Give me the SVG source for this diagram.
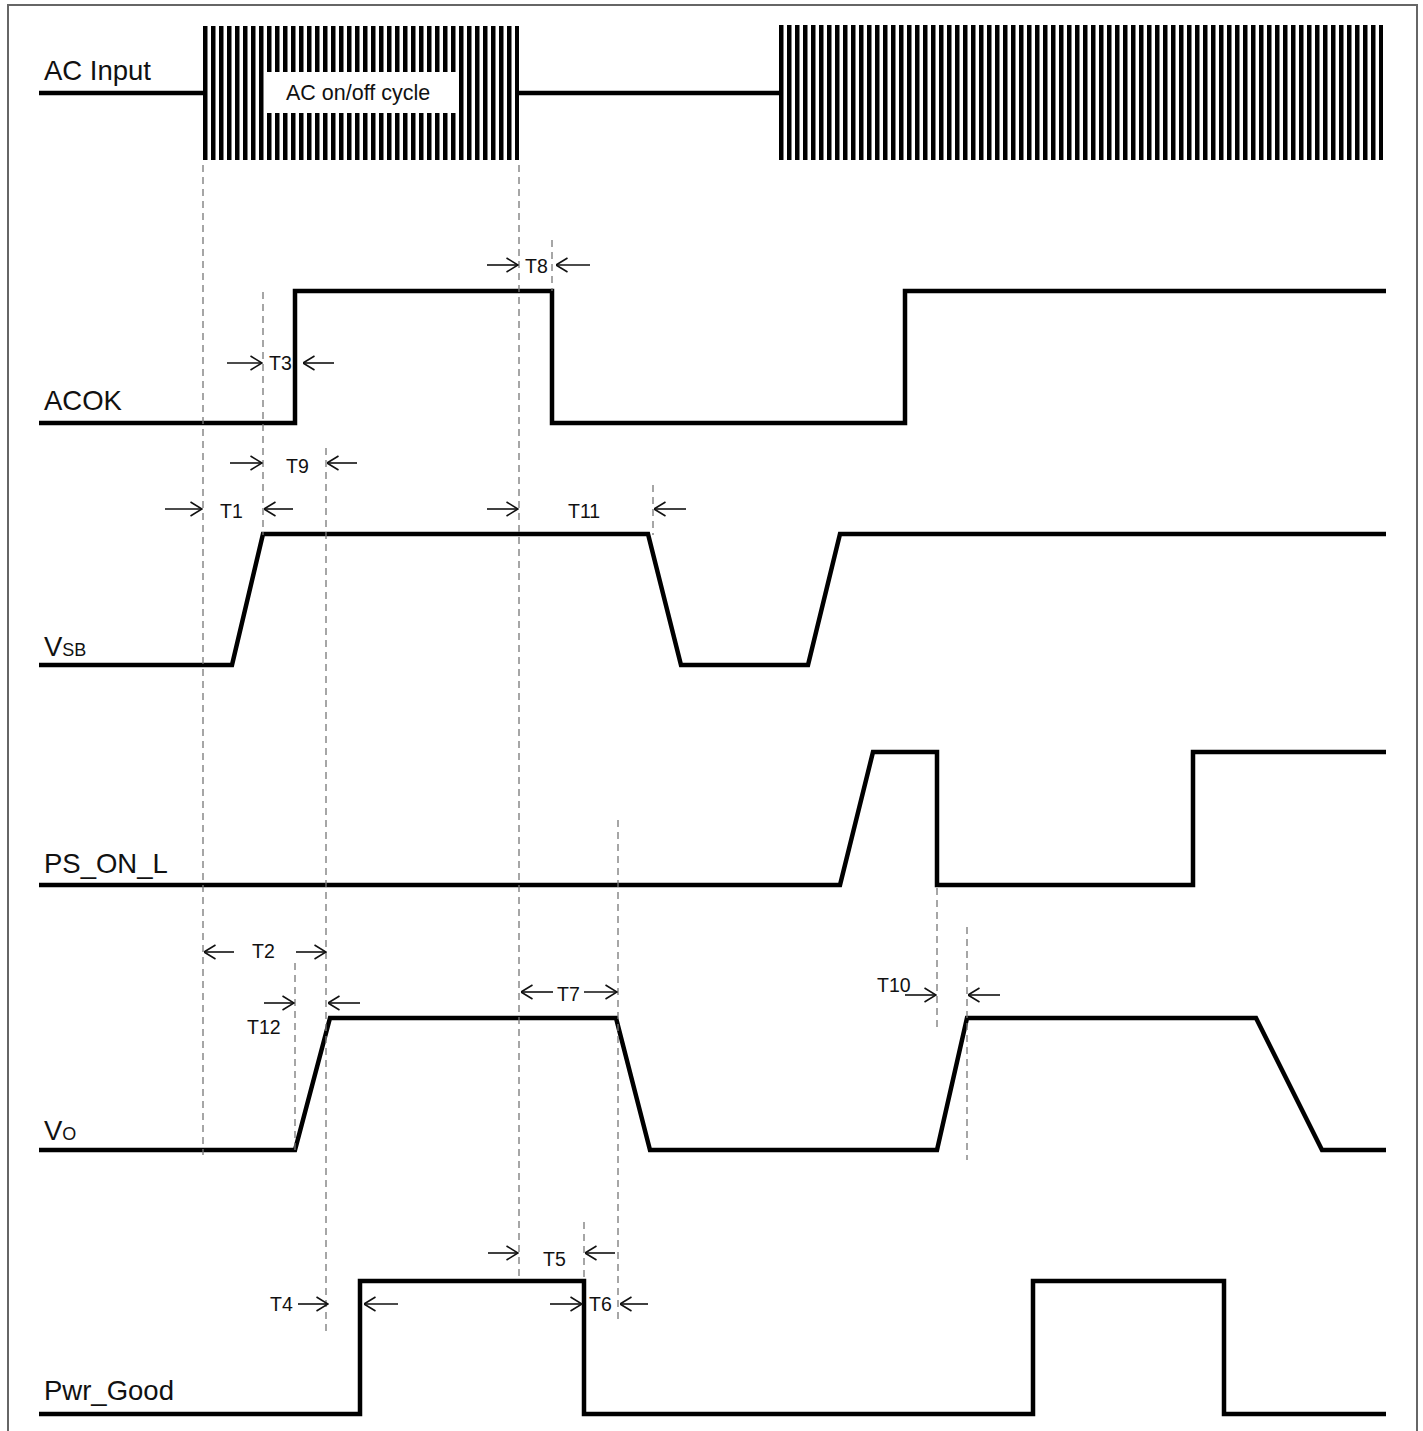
<svg xmlns="http://www.w3.org/2000/svg" width="1423" height="1431" viewBox="0 0 1423 1431">
<style>
.wave{fill:none;stroke:#000;stroke-width:4.5;stroke-linejoin:miter}
.lbl{font-family:"Liberation Sans",Arial,sans-serif;font-size:27.5px;fill:#111}
.sub{font-size:18px}
.t{font-family:"Liberation Sans",Arial,sans-serif;font-size:19.5px;fill:#111}
.dash{stroke:#777;stroke-width:1.3;stroke-dasharray:7 5;fill:none}
.arr{stroke:#111;stroke-width:1.6;fill:none;marker-end:url(#ah)}
</style>
<defs>
<marker id="ah" viewBox="0 0 13 16" refX="12.5" refY="8" markerWidth="13" markerHeight="16" markerUnits="userSpaceOnUse" orient="auto">
<path d="M1,1 L12.5,8 L1,15" fill="none" stroke="#111" stroke-width="1.6"/>
</marker>
<pattern id="hatch" x="203" y="0" width="8" height="200" patternUnits="userSpaceOnUse">
<rect x="0" y="0" width="4.5" height="200" fill="#000"/>
</pattern>
</defs>
<rect x="8" y="5" width="1409" height="1440" fill="#fff" stroke="#666" stroke-width="2"/>

<g id="ac-input">
<text class="lbl" x="44" y="80">AC Input</text>
<path class="wave" d="M39,93 H203"/>
<rect x="203" y="26" width="316" height="134" fill="url(#hatch)"/>
<rect x="265" y="72" width="192" height="41" fill="#fff"/>
<text class="t" x="286" y="100" style="font-size:21.5px">AC on/off cycle</text>
<path class="wave" d="M517,93 H779"/>
<rect x="779" y="25" width="604" height="135" fill="url(#hatch)"/>
</g>

<g id="acok">
<text class="lbl" x="44" y="410">ACOK</text>
<path class="wave" d="M39,423 H295 V291 H552 V423 H905 V291 H1386"/>
</g>

<g id="vsb">
<text class="lbl" x="44" y="656">V<tspan class="sub">SB</tspan></text>
<path class="wave" d="M39,665 H232 L263,534 H648 L681,665 H808 L840,534 H1386"/>
</g>

<g id="ps-on-l">
<text class="lbl" x="44" y="873">PS_ON_L</text>
<path class="wave" d="M39,885 H840 L873,752 H937 V885 H1193 V752 H1386"/>
</g>

<g id="vo">
<text class="lbl" x="44" y="1140">V<tspan class="sub">O</tspan></text>
<path class="wave" d="M39,1150 H295 L330,1018 H616 L650,1150 H937 L967,1018 H1256 L1322,1150 H1386"/>
</g>

<g id="pwr-good">
<text class="lbl" x="44" y="1400">Pwr_Good</text>
<path class="wave" d="M39,1414 H360 V1281 H584 V1414 H1033 V1281 H1224 V1414 H1386"/>
</g>

<g id="connectors">
<line class="dash" x1="203" y1="165" x2="203" y2="1155"/>
<line class="dash" x1="519" y1="165" x2="519" y2="1280"/>
<line class="dash" x1="552" y1="240" x2="552" y2="291"/>
<line class="dash" x1="263" y1="292" x2="263" y2="535"/>
<line class="dash" x1="326" y1="448" x2="326" y2="1335"/>
<line class="dash" x1="653" y1="485" x2="653" y2="535"/>
<line class="dash" x1="295" y1="963" x2="295" y2="1150"/>
<line class="dash" x1="618" y1="820" x2="618" y2="1320"/>
<line class="dash" x1="584" y1="1222" x2="584" y2="1281"/>
<line class="dash" x1="937" y1="888" x2="937" y2="1028"/>
<line class="dash" x1="967" y1="927" x2="967" y2="1160"/>

<line class="arr" x1="487" y1="265" x2="518" y2="265"/>
<text class="t" x="525" y="273">T8</text>
<line class="arr" x1="590" y1="265" x2="556" y2="265"/>

<line class="arr" x1="227" y1="363" x2="262" y2="363"/>
<text class="t" x="269" y="370">T3</text>
<line class="arr" x1="334" y1="363" x2="303" y2="363"/>

<line class="arr" x1="230" y1="463" x2="262" y2="463"/>
<text class="t" x="286" y="473">T9</text>
<line class="arr" x1="357" y1="463" x2="327" y2="463"/>

<line class="arr" x1="165" y1="509" x2="202" y2="509"/>
<text class="t" x="220" y="518">T1</text>
<line class="arr" x1="293" y1="509" x2="264" y2="509"/>

<line class="arr" x1="487" y1="509" x2="518" y2="509"/>
<text class="t" x="568" y="518">T11</text>
<line class="arr" x1="686" y1="509" x2="654" y2="509"/>

<line class="arr" x1="234" y1="952" x2="204" y2="952"/>
<text class="t" x="252" y="958">T2</text>
<line class="arr" x1="296" y1="952" x2="326" y2="952"/>

<line class="arr" x1="264" y1="1003" x2="294" y2="1003"/>
<text class="t" x="247" y="1034">T12</text>
<line class="arr" x1="360" y1="1003" x2="328" y2="1003"/>

<line class="arr" x1="553" y1="992" x2="521" y2="992"/>
<text class="t" x="557" y="1001">T7</text>
<line class="arr" x1="584" y1="992" x2="617" y2="992"/>

<text class="t" x="877" y="992">T10</text>
<line class="arr" x1="905" y1="995" x2="936" y2="995"/>
<line class="arr" x1="1000" y1="995" x2="968" y2="995"/>

<line class="arr" x1="488" y1="1253" x2="518" y2="1253"/>
<text class="t" x="543" y="1266">T5</text>
<line class="arr" x1="615" y1="1253" x2="585" y2="1253"/>

<text class="t" x="270" y="1311">T4</text>
<line class="arr" x1="298" y1="1304" x2="328" y2="1304"/>
<line class="arr" x1="398" y1="1304" x2="364" y2="1304"/>

<line class="arr" x1="550" y1="1304" x2="582" y2="1304"/>
<text class="t" x="589" y="1311">T6</text>
<line class="arr" x1="648" y1="1304" x2="620" y2="1304"/>
</g>
</svg>
